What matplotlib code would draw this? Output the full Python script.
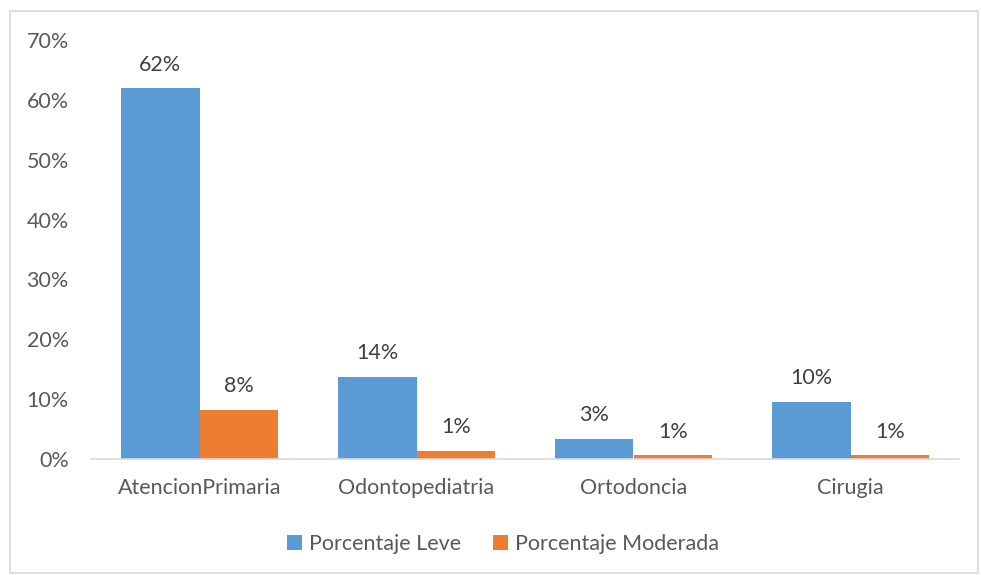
import matplotlib.pyplot as plt
import numpy as np
from matplotlib.patches import Rectangle

# Datos (en %)
categorias = ["AtencionPrimaria", "Odontopediatria", "Ortodoncia", "Cirugia"]
leve = [61.9, 13.7, 3.4, 9.6]
moderada = [8.2, 1.3, 0.6, 0.6]
etiquetas_leve = ["62%", "14%", "3%", "10%"]
etiquetas_moderada = ["8%", "1%", "1%", "1%"]

azul = "#5b9bd5"
naranja = "#ed7d31"
gris_texto = "#595959"
fs = 15.5

plt.rcParams["font.family"] = ["Lato", "DejaVu Sans"]

fig = plt.figure(figsize=(9.81, 5.75), dpi=100)
ax = fig.add_axes([91 / 981, 1 - 459 / 575, 868 / 981, 419 / 575])

x = np.arange(len(categorias))
w = 0.362
b1 = ax.bar(x - w / 2, leve, w, color=azul, label="Porcentaje Leve")
b2 = ax.bar(x + w / 2, moderada, w, color=naranja, label="Porcentaje Moderada")

for barras, textos in [(b1, etiquetas_leve), (b2, etiquetas_moderada)]:
    for rect, txt in zip(barras, textos):
        ax.annotate(txt, (rect.get_x() + rect.get_width() / 2, rect.get_height()),
                    xytext=(0, 10), textcoords="offset points", ha="center", va="bottom",
                    fontsize=fs, color="#404040")

ax.set_xlim(-0.5, len(categorias) - 0.5)
ax.set_ylim(0, 70)
ax.set_yticks(np.arange(0, 71, 10))
ax.set_yticklabels([f"{v}%" for v in range(0, 71, 10)])
ax.set_xticks(x)
ax.set_xticklabels(categorias)
ax.tick_params(axis="both", length=0, labelsize=fs, colors=gris_texto)
ax.tick_params(axis="y", pad=16)
ax.tick_params(axis="x", pad=14)

for s in ["top", "right", "left"]:
    ax.spines[s].set_visible(False)
ax.spines["bottom"].set_color("#d9d9d9")
ax.spines["bottom"].set_linewidth(1.2)

leg = fig.legend(loc="center", bbox_to_anchor=(503 / 981, 1 - 544 / 575), ncol=2, frameon=False,
                 fontsize=fs, handlelength=0.7, handleheight=0.7, handletextpad=0.3,
                 columnspacing=1.5)
for t in leg.get_texts():
    t.set_color(gris_texto)

# borde exterior
fig.patches.append(Rectangle((9.5 / 981, 2 / 575), 968 / 981, 562 / 575,
                             transform=fig.transFigure, fill=False,
                             edgecolor="#d9d9d9", linewidth=1.2))

fig.savefig("out.png", dpi=100)
